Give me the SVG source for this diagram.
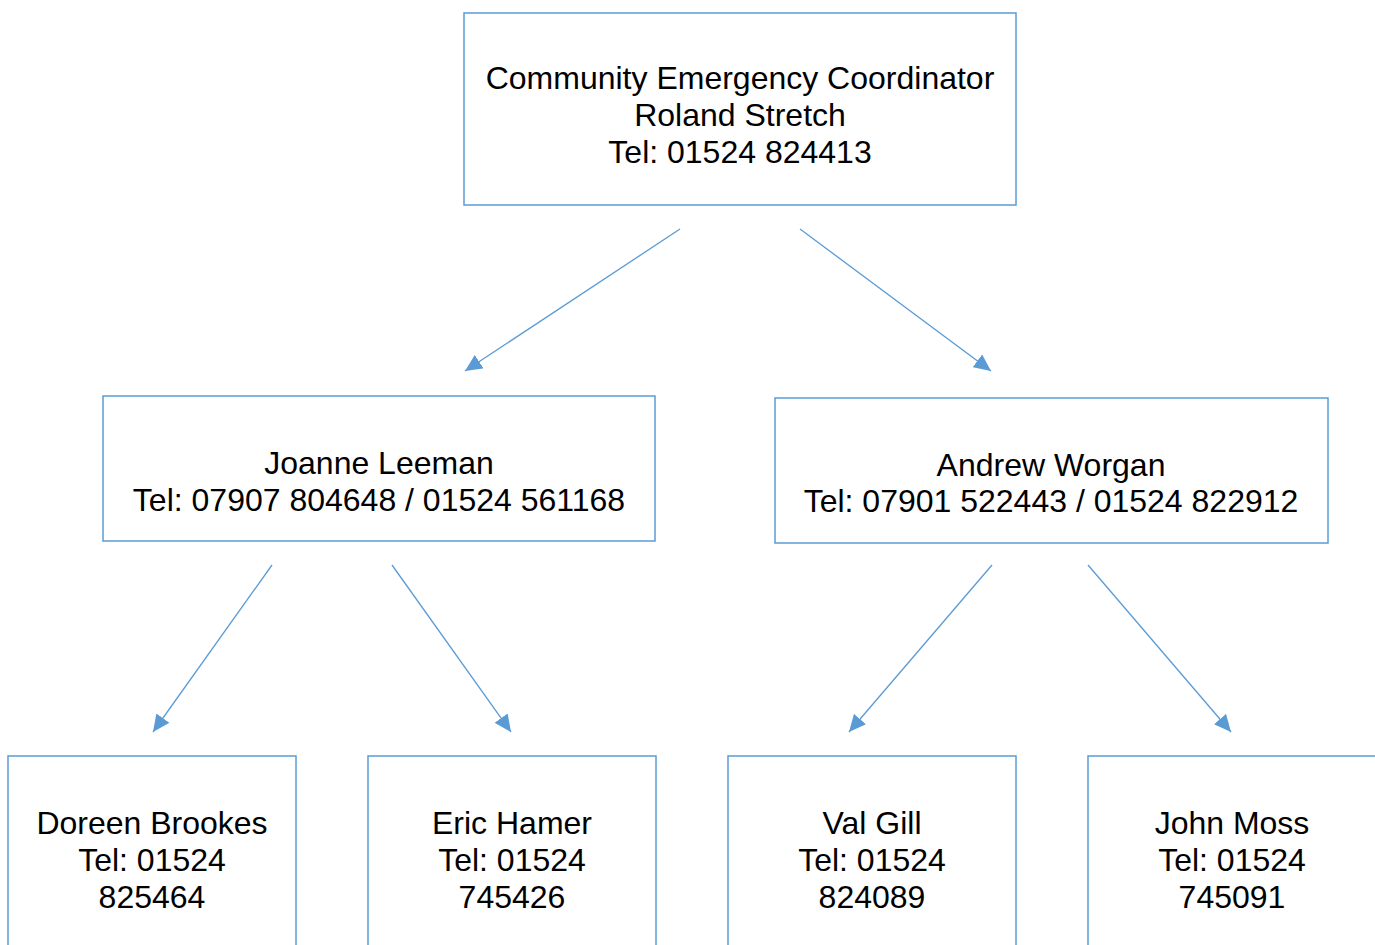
<svg xmlns="http://www.w3.org/2000/svg" width="1375" height="945" viewBox="0 0 1375 945">
<style>
.box{fill:#fff;stroke:#5B9BD5;stroke-width:1.5}
.t{font-family:"Liberation Sans",Arial,sans-serif;font-size:32px;fill:#000;text-anchor:middle}
.c{stroke:#5B9BD5;stroke-width:1.3;fill:none;marker-end:url(#ah)}
</style>
<defs>
<marker id="ah" markerUnits="userSpaceOnUse" markerWidth="18" markerHeight="16" refX="17" refY="8" orient="auto">
<path d="M0,0 L17,8 L0,16 Z" fill="#5B9BD5"/>
</marker>
</defs>
<rect width="1375" height="945" fill="#fff"/>
<g id="connectors">
<line class="c" x1="680" y1="229" x2="465" y2="371"/>
<line class="c" x1="800" y1="229" x2="991" y2="371"/>
<line class="c" x1="272" y1="565" x2="153" y2="732"/>
<line class="c" x1="392" y1="565" x2="511" y2="732"/>
<line class="c" x1="992" y1="565" x2="849" y2="732"/>
<line class="c" x1="1088" y1="565" x2="1231" y2="732"/>
</g>
<g id="coordinator">
<rect class="box" x="464" y="13" width="552" height="192"/>
<text class="t" x="740" y="89">Community Emergency Coordinator</text>
<text class="t" x="740" y="126">Roland Stretch</text>
<text class="t" x="740" y="163">Tel: 01524 824413</text>
</g>
<g id="joanne">
<rect class="box" x="103" y="396" width="552" height="145"/>
<text class="t" x="379" y="474">Joanne Leeman</text>
<text class="t" x="379" y="511">Tel: 07907 804648 / 01524 561168</text>
</g>
<g id="andrew">
<rect class="box" x="775" y="398" width="553" height="145"/>
<text class="t" x="1051" y="476">Andrew Worgan</text>
<text class="t" x="1051" y="512">Tel: 07901 522443 / 01524 822912</text>
</g>
<g id="doreen">
<rect class="box" x="8" y="756" width="288" height="200"/>
<text class="t" x="152" y="834">Doreen Brookes</text>
<text class="t" x="152" y="871">Tel: 01524</text>
<text class="t" x="152" y="908">825464</text>
</g>
<g id="eric">
<rect class="box" x="368" y="756" width="288" height="200"/>
<text class="t" x="512" y="834">Eric Hamer</text>
<text class="t" x="512" y="871">Tel: 01524</text>
<text class="t" x="512" y="908">745426</text>
</g>
<g id="val">
<rect class="box" x="728" y="756" width="288" height="200"/>
<text class="t" x="872" y="834">Val Gill</text>
<text class="t" x="872" y="871">Tel: 01524</text>
<text class="t" x="872" y="908">824089</text>
</g>
<g id="john">
<rect class="box" x="1088" y="756" width="300" height="200"/>
<text class="t" x="1232" y="834">John Moss</text>
<text class="t" x="1232" y="871">Tel: 01524</text>
<text class="t" x="1232" y="908">745091</text>
</g>
</svg>
